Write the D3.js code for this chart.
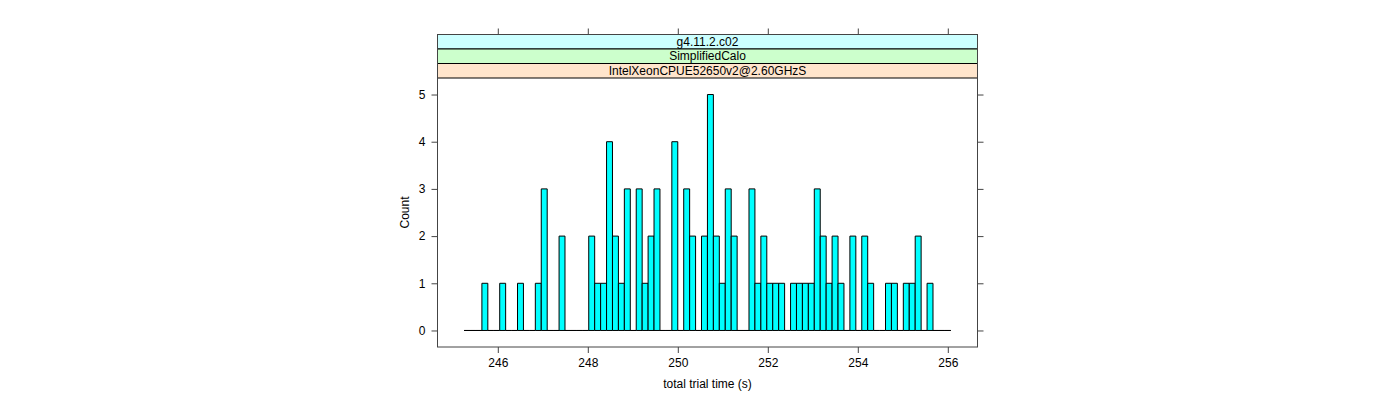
<!DOCTYPE html>
<html>
<head>
<meta charset="utf-8">
<script src="https://cdn.jsdelivr.net/npm/d3@7"></script>
<style>
html,body{margin:0;padding:0;background:#fff;}
svg text{font-family:"Liberation Sans",Arial,Helvetica,sans-serif;}
</style>
</head>
<body>
<svg id="chart" width="1400" height="400"></svg>
<script>
// ---- data ----
const binStart = 245.251;
const binWidth = 0.1319;
const counts = [0,0,0,1,0,0,1,0,0,1,0,0,1,3,0,0,2,0,0,0,0,2,1,1,4,2,1,3,0,3,1,2,3,0,0,4,0,3,2,0,2,5,2,1,3,2,0,0,3,1,2,1,1,1,0,1,1,1,1,3,2,1,2,1,0,2,0,2,1,0,0,1,1,0,1,1,2,0,1,0,0,0];
const xTicks = [246, 248, 250, 252, 254, 256];
const yTicks = [0, 1, 2, 3, 4, 5];
const stripLabels = ["g4.11.2.c02", "SimplifiedCalo", "IntelXeonCPUE52650v2@2.60GHzS"];
const stripColors = ["#ccffff", "#ccffcc", "#ffe5cc"];
const xTitle = "total trial time (s)";
const yTitle = "Count";

const bins = counts.map((c, i) => ({x0: binStart + i * binWidth, x1: binStart + (i + 1) * binWidth, count: c}));

// ---- layout ----
const L = 437.5, R = 977.5, T = 78, B = 347;
const stripTop = 34.5, stripH = (T - stripTop) / 3;

const svg = d3.select("#chart");
const x = d3.scaleLinear().domain([244.66, 256.66]).range([L, R]);
const y = d3.scaleLinear().domain([-0.35, 5.35]).range([B, T]);

// bars as closed paths (zero-height bins still draw, forming the baseline)
svg.append("g").selectAll("path").data(bins).join("path")
  .attr("d", d => {
    const p = d3.path();
    p.moveTo(x(d.x0), y(0));
    p.lineTo(x(d.x1), y(0));
    p.lineTo(x(d.x1), y(d.count));
    p.lineTo(x(d.x0), y(d.count));
    p.closePath();
    return p.toString();
  })
  .attr("fill", "#00ffff")
  .attr("stroke", "#000")
  .attr("stroke-width", 1);

// axes
const tickCol = "#444";
const gB = svg.append("g").attr("transform", `translate(0,${B})`)
  .call(d3.axisBottom(x).tickValues(xTicks).tickSize(6).tickPadding(5).tickFormat(d3.format("d")));
const gT = svg.append("g").attr("transform", `translate(0,${stripTop})`)
  .call(d3.axisTop(x).tickValues(xTicks).tickSize(6).tickFormat(""));
const gL = svg.append("g").attr("transform", `translate(${L},0)`)
  .call(d3.axisLeft(y).tickValues(yTicks).tickSize(6).tickPadding(6).tickFormat(d3.format("d")));
const gR = svg.append("g").attr("transform", `translate(${R},0)`)
  .call(d3.axisRight(y).tickValues(yTicks).tickSize(6).tickFormat(""));
[gB, gT, gL, gR].forEach(g => {
  g.select(".domain").remove();
  g.selectAll(".tick line").attr("stroke", tickCol);
  g.selectAll(".tick text").attr("fill", "#000").style("font-size", "12px")
    .style("font-family", "'Liberation Sans',Arial,sans-serif");
});

// strips
stripLabels.forEach((lab, i) => {
  const yy = stripTop + i * stripH;
  svg.append("rect").attr("x", L).attr("y", yy).attr("width", R - L).attr("height", stripH)
    .attr("fill", stripColors[i]).attr("stroke", "#000").attr("stroke-width", 1);
  svg.append("text").attr("x", (L + R) / 2).attr("y", yy + stripH / 2)
    .attr("text-anchor", "middle").attr("dominant-baseline", "central")
    .style("font-size", "12px").text(lab);
});

// panel box
svg.append("rect").attr("x", L).attr("y", stripTop).attr("width", R - L).attr("height", B - stripTop)
  .attr("fill", "none").attr("stroke", tickCol).attr("stroke-width", 1);

// titles
svg.append("text").attr("x", (L + R) / 2).attr("y", 384)
  .attr("text-anchor", "middle").attr("dominant-baseline", "central")
  .style("font-size", "12px").text(xTitle);
svg.append("text").attr("transform", `translate(405,${(T + B) / 2}) rotate(-90)`)
  .attr("text-anchor", "middle").attr("dominant-baseline", "central")
  .style("font-size", "12px").text(yTitle);
</script>
</body>
</html>
